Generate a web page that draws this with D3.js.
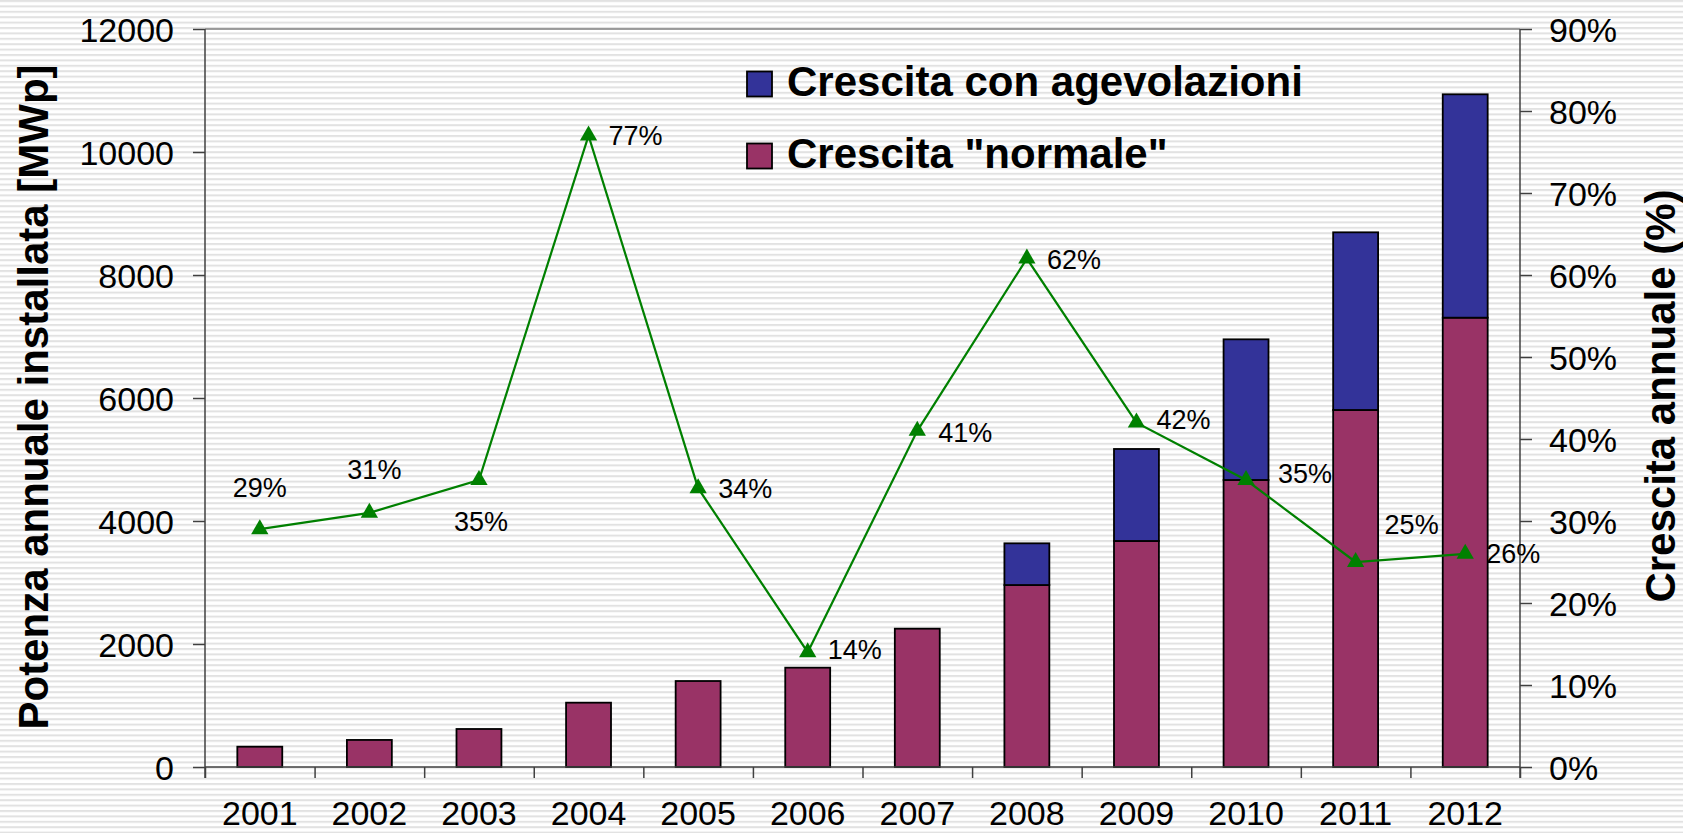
<!DOCTYPE html>
<html>
<head>
    <title>Crescita annuale</title>
    <script src="https://d3js.org/d3.v7.min.js"></script>
    <style>
        body { margin: 0; background: #fff; }
        svg text { font-family: "Liberation Sans", Arial, sans-serif; fill: #000; }
    </style>
</head>
<body>
    <div id="chart"></div>
    <script>
        // Data
        const years = ["2001", "2002", "2003", "2004", "2005", "2006", "2007", "2008", "2009", "2010", "2011", "2012"];
        const normale = [330, 440, 618, 1046, 1398, 1615, 2249, 2959, 3675, 4667, 5805, 7306];
        const agevolazioni = [0, 0, 0, 0, 0, 0, 0, 678, 1496, 2287, 2889, 3632];
        const crescita = [0.29, 0.31, 0.35, 0.77, 0.34, 0.14, 0.41, 0.62, 0.42, 0.35, 0.25, 0.26];
        const leftTicks = [0, 2000, 4000, 6000, 8000, 10000, 12000];
        const rightTicks = [0, 0.1, 0.2, 0.3, 0.4, 0.5, 0.6, 0.7, 0.8, 0.9];
        const legendLabels = ["Crescita con agevolazioni", "Crescita \"normale\""];

        // label placement for the percentages (anchor, dx, dy from the marker)
        const labelPos = [
            ["middle", 0, -42], ["middle", 5, -44], ["middle", 2, 41], ["start", 20, 0],
            ["start", 20, 0], ["start", 20, -3], ["start", 21, 1], ["start", 20, 1],
            ["start", 20, -3], ["start", 32, -7], ["middle", 56, -38], ["start", 21, -1]
        ];

        const W = 1683, H = 833;
        const plotL = 205, plotR = 1520, plotT = 29, plotB = 767;

        const svg = d3.select("#chart")
            .append("svg")
            .attr("width", W)
            .attr("height", H);

        // striped background
        const pat = svg.append("defs").append("pattern")
            .attr("id", "stripes")
            .attr("patternUnits", "userSpaceOnUse")
            .attr("width", 10)
            .attr("height", 5.4);
        pat.append("rect").attr("width", 10).attr("height", 5.4).attr("fill", "#fff");
        pat.append("rect").attr("y", 0).attr("width", 10).attr("height", 2).attr("fill", "#e2e2e2");

        svg.append("rect")
            .attr("width", W)
            .attr("height", H)
            .attr("fill", "url(#stripes)");

        const x = d3.scaleBand()
            .domain(years)
            .range([plotL, plotR])
            .paddingInner(0.59)
            .paddingOuter(0.295);
        const xb = d3.scaleLinear().domain([0, years.length]).range([plotL, plotR]);
        const yL = d3.scaleLinear().domain([0, 12000]).range([plotB, plotT]);
        const yR = d3.scaleLinear().domain([0, 0.9]).range([plotB, plotT]);
        const cx = d => x(d) + x.bandwidth() / 2;

        // top border of the plot area
        svg.append("line")
            .attr("x1", plotL).attr("x2", plotR)
            .attr("y1", plotT).attr("y2", plotT)
            .style("stroke", "#808080")
            .style("stroke-width", 1.5);

        // stacked bars
        const rows = years.map((y, i) => ({ year: y, normale: normale[i], agevolazioni: agevolazioni[i] }));
        const stack = d3.stack().keys(["normale", "agevolazioni"])(rows);
        const colors = { normale: "#993366", agevolazioni: "#333399" };

        svg.append("g")
            .selectAll("g")
            .data(stack)
            .enter()
            .append("g")
            .attr("fill", d => colors[d.key])
            .selectAll("rect")
            .data(d => d.filter(p => p[1] - p[0] > 0))
            .enter()
            .append("rect")
            .attr("x", d => x(d.data.year))
            .attr("width", x.bandwidth())
            .attr("y", d => yL(d[1]))
            .attr("height", d => yL(d[0]) - yL(d[1]))
            .style("stroke", "#000")
            .style("stroke-width", 1.8);

        // left axis
        const axL = svg.append("g")
            .attr("transform", `translate(${plotL},0)`)
            .call(d3.axisLeft(yL).tickValues(leftTicks).tickSize(12).tickSizeOuter(0).tickPadding(19)
                .tickFormat(d3.format("d")));
        axL.select(".domain").remove();
        axL.selectAll("line").style("stroke", "#404040").style("stroke-width", 1.5);
        axL.selectAll("text").style("font-size", "34px").attr("dy", "0.36em");

        // right axis
        const axR = svg.append("g")
            .attr("transform", `translate(${plotR},0)`)
            .call(d3.axisRight(yR).tickValues(rightTicks).tickSize(12).tickSizeOuter(0).tickPadding(17)
                .tickFormat(d3.format(".0%")));
        axR.select(".domain").remove();
        axR.selectAll("line").style("stroke", "#404040").style("stroke-width", 1.5);
        axR.selectAll("text").style("font-size", "34px").attr("dy", "0.36em");

        // bottom axis: ticks at category boundaries
        const axB = svg.append("g")
            .attr("transform", `translate(0,${plotB})`)
            .call(d3.axisBottom(xb).tickValues(d3.range(years.length + 1)).tickSize(11).tickSizeOuter(0).tickFormat(""));
        axB.select(".domain").remove();
        axB.selectAll("line").style("stroke", "#404040").style("stroke-width", 1.5);

        // axis lines
        [[plotL, plotT, plotL, plotB + 11], [plotR, plotT, plotR, plotB + 11], [plotL, plotB, plotR, plotB]].forEach(l => {
            svg.append("line")
                .attr("x1", l[0]).attr("y1", l[1]).attr("x2", l[2]).attr("y2", l[3])
                .style("stroke", "#404040")
                .style("stroke-width", 1.5);
        });

        // year labels
        svg.append("g")
            .selectAll("text")
            .data(years)
            .enter()
            .append("text")
            .attr("x", d => cx(d))
            .attr("y", 825)
            .style("text-anchor", "middle")
            .style("font-size", "34px")
            .text(d => d);

        // growth line
        const line = d3.line()
            .x((d, i) => cx(years[i]))
            .y(d => yR(d));

        svg.append("path")
            .datum(crescita)
            .attr("d", line)
            .style("fill", "none")
            .style("stroke", "#008000")
            .style("stroke-width", 2.2);

        svg.append("g")
            .selectAll("path")
            .data(crescita)
            .enter()
            .append("path")
            .attr("d", d3.symbol(d3.symbolTriangle, 130))
            .attr("transform", (d, i) => `translate(${cx(years[i])},${yR(d)})`)
            .style("fill", "#008000");

        svg.append("g")
            .selectAll("text")
            .data(crescita)
            .enter()
            .append("text")
            .attr("x", (d, i) => cx(years[i]) + labelPos[i][1])
            .attr("y", (d, i) => yR(d) + labelPos[i][2])
            .attr("dy", "0.36em")
            .style("text-anchor", (d, i) => labelPos[i][0])
            .style("font-size", "27px")
            .text(d => d3.format(".0%")(d));

        // axis titles
        svg.append("text")
            .attr("transform", "translate(48,397) rotate(-90)")
            .style("text-anchor", "middle")
            .style("font-size", "42px")
            .style("font-weight", "bold")
            .text("Potenza annuale installata [MWp]");

        svg.append("text")
            .attr("transform", "translate(1675,396) rotate(-90)")
            .style("text-anchor", "middle")
            .style("font-size", "42px")
            .style("font-weight", "bold")
            .text("Crescita annuale (%)");

        // legend
        const legend = svg.append("g")
            .selectAll("g")
            .data(legendLabels)
            .enter()
            .append("g")
            .attr("transform", (d, i) => `translate(747,${84 + i * 72})`);

        legend.append("rect")
            .attr("x", 0)
            .attr("y", -12.5)
            .attr("width", 25)
            .attr("height", 25)
            .attr("fill", (d, i) => i === 0 ? colors.agevolazioni : colors.normale)
            .style("stroke", "#000")
            .style("stroke-width", 1.8);

        legend.append("text")
            .attr("x", 40)
            .attr("y", 12)
            .style("font-size", "42px")
            .style("font-weight", "bold")
            .text(d => d);
    </script>
</body>
</html>
